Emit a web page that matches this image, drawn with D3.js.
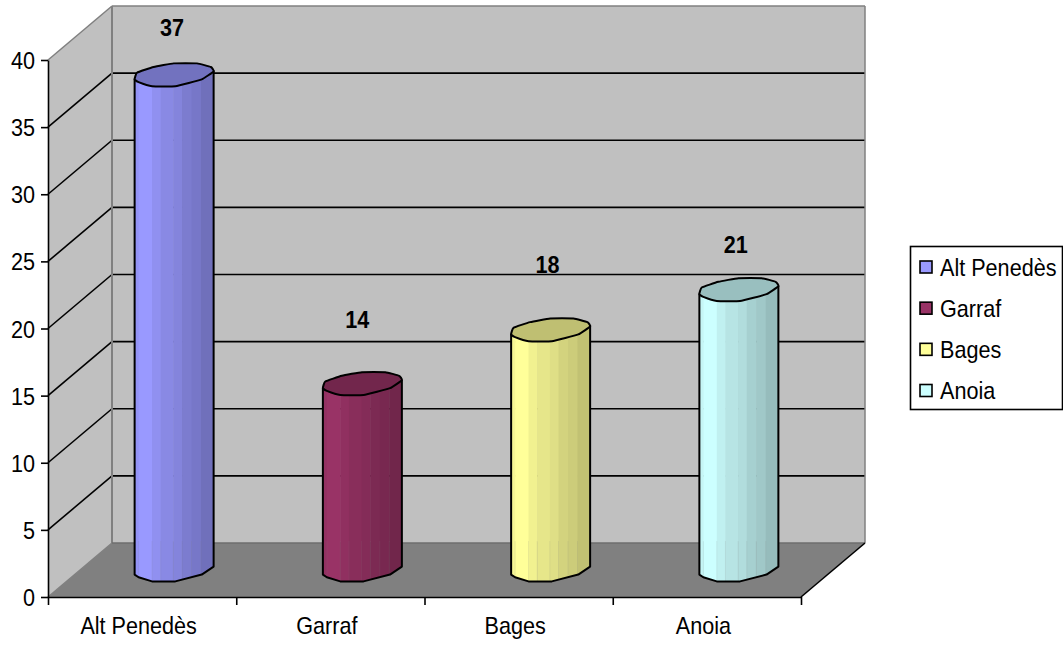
<!DOCTYPE html>
<html><head><meta charset="utf-8">
<script src="https://cdnjs.cloudflare.com/ajax/libs/d3/7.8.5/d3.min.js"></script>
<style>html,body{margin:0;padding:0;background:#fff}svg{display:block}text{font-family:"Liberation Sans",Arial,sans-serif;fill:#000;font-size:24px}</style>
</head><body><svg id="c" width="1063" height="645"></svg>
<script>
const categories = ["Alt Penedès","Garraf","Bages","Anoia"];
const values = [37,14,18,21];
const yTicks = [0,5,10,15,20,25,30,35,40];
const sideColors = ["#9999FF","#993366","#FFFF99","#CCFFFF"];
const shadeColors = ["#6A6AB2","#6B2447","#B8B86E","#8FB3B3"];
const topColors = ["#7272BF","#72264C","#BFBF72","#99BFBF"];
const labelLift = [47,64,65,45];
const labelShift = [-2,-5,-3,-3];
// cylinder shading layout
const bandStops = [0,.05,.22,.33,.49,.6,.72,.84,1];
const bandShade = [.12,0,.2,.35,.45,.62,.72,.88];
// unit outline of the cylinder's rim, clockwise from the left corner
const rimX = [-1,-.94,-.52,-.01,.58,.93,1,.70,.03,-.56,-.90];
const rimY = [.40,-.18,-.68,-1,-1,-.68,-.30,.40,1,1,.64];

const svg = d3.select("#c");
const F={x0:48,x1:801,y0:597,y1:60}, dx=64, dy=54;
const y = d3.scaleLinear().domain([0,40]).range([F.y0,F.y1]);
const x = d3.scaleBand().domain(categories).range([F.x0,F.x1]);
const barY = v => 571 - (F.y0 - y(v));
const poly=(pts,fill,stroke,sw)=>svg.append("polygon").attr("points",pts.map(p=>p.join(",")).join(" ")).attr("fill",fill).attr("stroke",stroke||"none").attr("stroke-width",sw||0);
const line=(a,b,c,w)=>svg.append("line").attr("x1",a[0]).attr("y1",a[1]).attr("x2",b[0]).attr("y2",b[1]).attr("stroke",c).attr("stroke-width",w);
// walls
poly([[F.x0+dx,F.y0-dy],[F.x0+dx,F.y1-dy],[F.x1+dx,F.y1-dy],[F.x1+dx,F.y0-dy]],"#C0C0C0");
poly([[F.x0,F.y0],[F.x0,F.y1],[F.x0+dx,F.y1-dy],[F.x0+dx,F.y0-dy]],"#C0C0C0");
poly([[F.x0,F.y0],[F.x0+dx,F.y0-dy],[F.x1+dx,F.y0-dy],[F.x1,F.y0]],"#808080");
// gridlines
yTicks.slice(1,-1).forEach(t=>{
  line([F.x0,y(t)],[F.x0+dx,y(t)-dy],"#000",1.6);
  line([F.x0+dx,y(t)-dy],[F.x1+dx,y(t)-dy],"#000",1.6);
});
// wall edges
const g="#808080";
line([F.x0+dx,F.y0-dy],[F.x0+dx,F.y1-dy],g,2);
line([F.x0+dx,F.y1-dy],[F.x1+dx,F.y1-dy],g,1.5);
line([F.x1+dx,F.y1-dy],[F.x1+dx,F.y0-dy],g,1.5);
line([F.x0,F.y1],[F.x0+dx,F.y1-dy],g,1.5);
line([F.x0,F.y0],[F.x0+dx,F.y0-dy],g,1.5);
line([F.x0+dx,F.y0-dy],[F.x1+dx,F.y0-dy],"#6e6e6e",1.5);
line([F.x1,F.y0],[F.x1+dx,F.y0-dy],"#000",1.6);
// axes
const gy=svg.append("g").attr("transform",`translate(${F.x0},0)`).call(d3.axisLeft(y).tickValues(yTicks).tickSize(7).tickSizeOuter(0));
gy.selectAll("text").attr("x",-13).attr("dy",null).attr("y",8.5).attr("font-size",null).attr("font-family",null);
const edges=d3.scalePoint().domain(d3.range(5)).range([F.x0,F.x1]);
const gx=svg.append("g").attr("transform",`translate(0,${F.y0})`).call(d3.axisBottom(edges).tickSize(8).tickFormat("").tickSizeOuter(0));
[gy,gx].forEach(a=>{a.selectAll("path,line").attr("stroke","#000").attr("stroke-width",1.6);});
// cylinders
const rx=39.5, ry=11.4;
const rim=(cx,cy,idx)=>idx.map(k=>[cx+rx*rimX[k],cy+ry*rimY[k]]);
const capIdx=d3.range(rimX.length);
const capPath=d3.line().curve(d3.curveCardinalClosed.tension(.65));
values.forEach((v,i)=>{
  const cx=x(categories[i])+x.bandwidth()/2+32, top=barY(v)+.5, bot=570;
  const shade=d3.scaleLinear().domain([0,1]).range([sideColors[i],shadeColors[i]]);
  const outline=[...rim(cx,top,[0]),...rim(cx,bot,[0]),...rim(cx,bot,[10,9,8,7,6]),...rim(cx,top,[6])];
  svg.append("clipPath").attr("id","cy"+i).append("polygon").attr("points",outline.map(p=>p.join(",")).join(" "));
  const strip=svg.append("g").attr("clip-path",`url(#cy${i})`);
  const bx=d3.scaleLinear().domain([0,1]).range([cx-rx,cx+rx]);
  strip.selectAll("rect").data(bandShade).join("rect")
    .attr("x",(d,k)=>bx(bandStops[k]))
    .attr("width",(d,k)=>bx(bandStops[k+1])-bx(bandStops[k])+.5)
    .attr("y",top-20).attr("height",bot-top+40)
    .attr("fill",d=>shade(d));
  // faint seams on the lower part of the body
  strip.selectAll("line").data(bandStops.slice(1,-1)).join("line")
    .attr("x1",d=>bx(d)).attr("x2",d=>bx(d))
    .attr("y1",541).attr("y2",bot+14)
    .attr("stroke","#808080").attr("stroke-opacity",.13).attr("stroke-width",1);
  poly(outline,"none","#000",2).attr("stroke-linejoin","round");
  svg.append("path").attr("d",capPath(rim(cx,top,capIdx))).attr("fill",topColors[i]).attr("stroke","#000").attr("stroke-width",2);
  svg.append("text").attr("x",x(categories[i])+x.bandwidth()/2-3.5).attr("y",634).attr("text-anchor","middle").text(categories[i]);
  svg.append("text").attr("x",cx+labelShift[i]).attr("y",barY(v)-labelLift[i]+8.5).attr("text-anchor","middle").style("font-weight","bold").text(v);
});
// legend
svg.append("rect").attr("x",910.5).attr("y",246.5).attr("width",152).attr("height",163).attr("fill","#fff").attr("stroke","#000").attr("stroke-width",1.6);
const ly=d3.scalePoint().domain(categories).range([267,390.5]);
categories.forEach((c,i)=>{
  svg.append("rect").attr("x",920).attr("y",ly(c)-6).attr("width",12).attr("height",12).attr("fill",sideColors[i]).attr("stroke","#000").attr("stroke-width",1.6);
  svg.append("text").attr("x",940).attr("y",ly(c)+8.5).text(c);
});
// the reference type is tall and narrow: condense every label horizontally
svg.selectAll("text").each(function(){
  const tx=+this.getAttribute("x")||0, ty=+this.getAttribute("y")||0;
  this.setAttribute("x",0); this.setAttribute("y",0);
  this.setAttribute("transform",`translate(${tx},${ty}) scale(.9,1)`);
});
</script></body></html>
